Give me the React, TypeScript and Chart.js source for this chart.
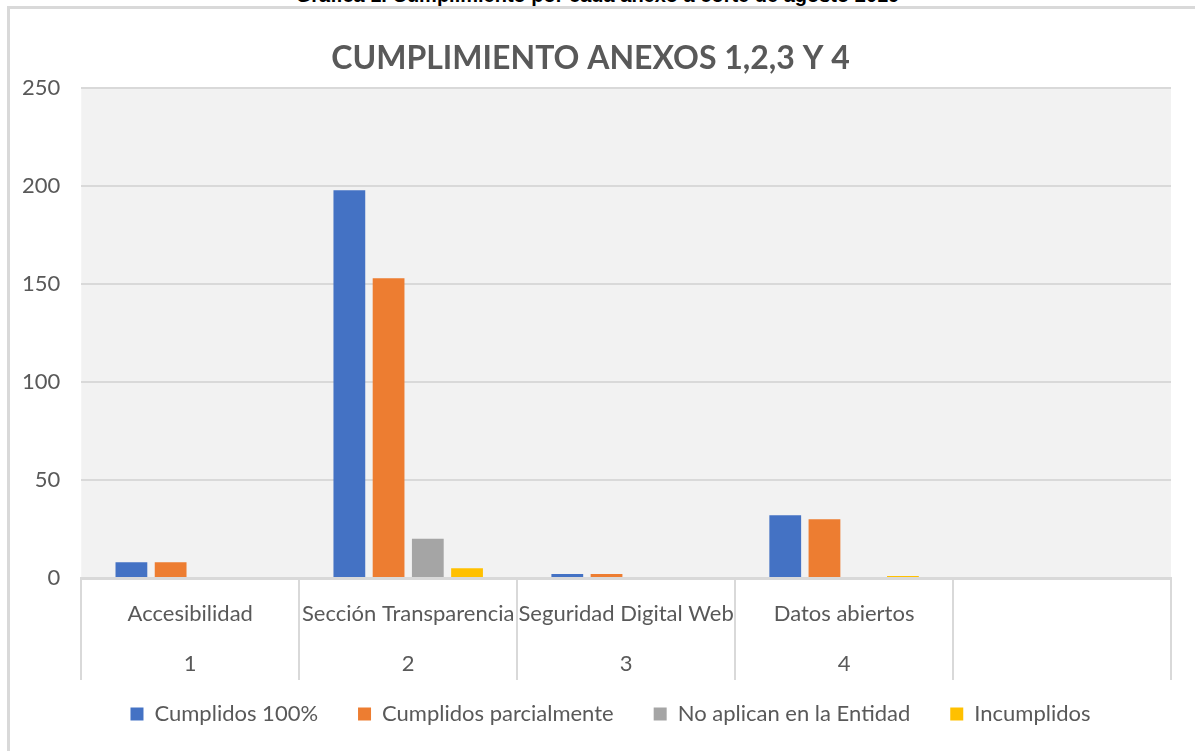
import React, { useEffect, useRef } from "react";
import { Chart, registerables } from "chart.js";

Chart.register(...registerables);

const caption = "Gráfica 1. Cumplimiento por cada anexo a corte de agosto 2019";
const chartTitle = "CUMPLIMIENTO ANEXOS 1,2,3 Y 4";
const categories = ["Accesibilidad", "Sección Transparencia", "Seguridad Digital Web", "Datos abiertos", ""];
const anexoNumbers = ["1", "2", "3", "4", ""];
const cumplidos100 = [8, 198, 2, 32, 0];
const cumplidosParcial = [8, 153, 2, 30, 0];
const noAplican = [0, 20, 0, 0, 0];
const incumplidos = [0, 5, 0, 1, 0];
const seriesNames = ["Cumplidos 100%", "Cumplidos parcialmente", "No aplican en la Entidad", "Incumplidos"];
const seriesColors = ["#4472C4", "#ED7D31", "#A5A5A5", "#FFC000"];
const yMin = 0;
const yMax = 250;
const yStep = 50;

const FONT = "Lato, 'Open Sans', sans-serif";
const TEXT = "#595959";
const GRID = "#d9d9d9";
const LEGEND_SHIFT = 29;
const LEGEND_X_SHIFT = 20;

const plotBackground = {
  id: "plotBackground",
  beforeDraw(chart: any) {
    const { ctx, chartArea } = chart;
    ctx.save();
    ctx.fillStyle = "#f2f2f2";
    ctx.fillRect(chartArea.left, chartArea.top, chartArea.right - chartArea.left, chartArea.bottom - chartArea.top);
    ctx.restore();
  },
};

const categorySeparators = {
  id: "categorySeparators",
  afterDraw(chart: any) {
    const { ctx, chartArea } = chart;
    const x = chart.scales.x;
    const n = x.ticks.length;
    if (n < 1) return;
    const step = n > 1 ? x.getPixelForTick(1) - x.getPixelForTick(0) : chartArea.right - chartArea.left;
    ctx.save();
    ctx.strokeStyle = GRID;
    ctx.lineWidth = 2;
    for (let i = 0; i <= n; i++) {
      const px = Math.round(x.getPixelForTick(0) - step / 2 + i * step);
      ctx.beginPath();
      ctx.moveTo(px, chartArea.bottom);
      ctx.lineTo(px, chartArea.bottom + 102);
      ctx.stroke();
    }
    ctx.restore();
  },
};

// lets the legend sit closer to the axis while keeping wide item spacing
const legendTighten = {
  id: "legendTighten",
  afterInit(chart: any) {
    const lg = chart.legend;
    if (!lg) return;
    const origFit = lg.fit.bind(lg);
    lg.fit = function () {
      origFit();
      this.height -= LEGEND_SHIFT;
    };
  },
  afterLayout(chart: any) {
    const lg = chart.legend;
    if (!lg) return;
    const bottom = lg.top + lg.height;
    lg.top -= LEGEND_SHIFT;
    lg.height += LEGEND_SHIFT;
    lg.bottom = bottom;
    lg.left += LEGEND_X_SHIFT;
    lg.right += LEGEND_X_SHIFT;
  },
};

export default function App() {
  const ref = useRef<HTMLCanvasElement | null>(null);

  useEffect(() => {
    if (!ref.current) return;
    const values = [cumplidos100, cumplidosParcial, noAplican, incumplidos];
    const chart = new Chart(ref.current, {
      type: "bar",
      data: {
        labels: categories.map((c, i) => [c, anexoNumbers[i]]),
        datasets: values.map((v, i) => ({
          label: seriesNames[i],
          data: v,
          backgroundColor: seriesColors[i],
          borderWidth: 0,
          categoryPercentage: 0.72,
          barPercentage: 0.81,
        })),
      },
      options: {
        animation: false,
        responsive: false,
        maintainAspectRatio: false,
        layout: { padding: { left: 0, right: 24, top: 0, bottom: 16 } },
        plugins: {
          title: {
            display: true,
            text: chartTitle,
            color: TEXT,
            font: { family: FONT, size: 32, weight: "bold" },
            padding: { top: 30, bottom: 11 },
          },
          legend: {
            position: "bottom",
            labels: {
              color: TEXT,
              font: { family: FONT, size: 22 },
              boxWidth: 13,
              boxHeight: 13,
              padding: 40,
            },
          },
          tooltip: { enabled: false },
        },
        scales: {
          x: {
            grid: {
              offset: true,
              display: false,
            },
            border: { display: true, color: GRID, width: 3 },
            ticks: {
              color: TEXT,
              font: { family: FONT, size: 22, lineHeight: 50 / 22 },
              padding: 3,
              maxRotation: 0,
              minRotation: 0,
              autoSkip: false,
            },
          },
          y: {
            min: yMin,
            max: yMax,
            grid: { color: GRID, lineWidth: 2, drawTicks: false },
            border: { display: false },
            ticks: {
              stepSize: yStep,
              color: TEXT,
              font: { family: FONT, size: 22 },
              padding: 21,
            },
            afterFit(scale: any) {
              scale.width -= 9;
            },
          },
        },
      },
      plugins: [plotBackground, categorySeparators, legendTighten],
    });
    return () => chart.destroy();
  }, []);

  return (
    <div style={{ position: "fixed", left: 0, top: 0, width: 1195, height: 751, background: "#fff", overflow: "hidden" }}>
      <div
        style={{
          position: "absolute",
          left: 0,
          width: 1195,
          top: -15,
          textAlign: "center",
          fontFamily: "'Liberation Sans', Arial, sans-serif",
          fontWeight: "bold",
          fontSize: 20,
          lineHeight: "20px",
          color: "#000",
        }}
      >
        {caption}
      </div>
      <div
        style={{
          position: "absolute",
          left: 7,
          top: 6,
          width: 1200,
          height: 760,
          border: "3px solid #d9d9d9",
          boxSizing: "border-box",
          background: "#fff",
        }}
      />
      <canvas ref={ref} width={1185} height={742} style={{ position: "absolute", left: 10, top: 9 }} />
    </div>
  );
}
